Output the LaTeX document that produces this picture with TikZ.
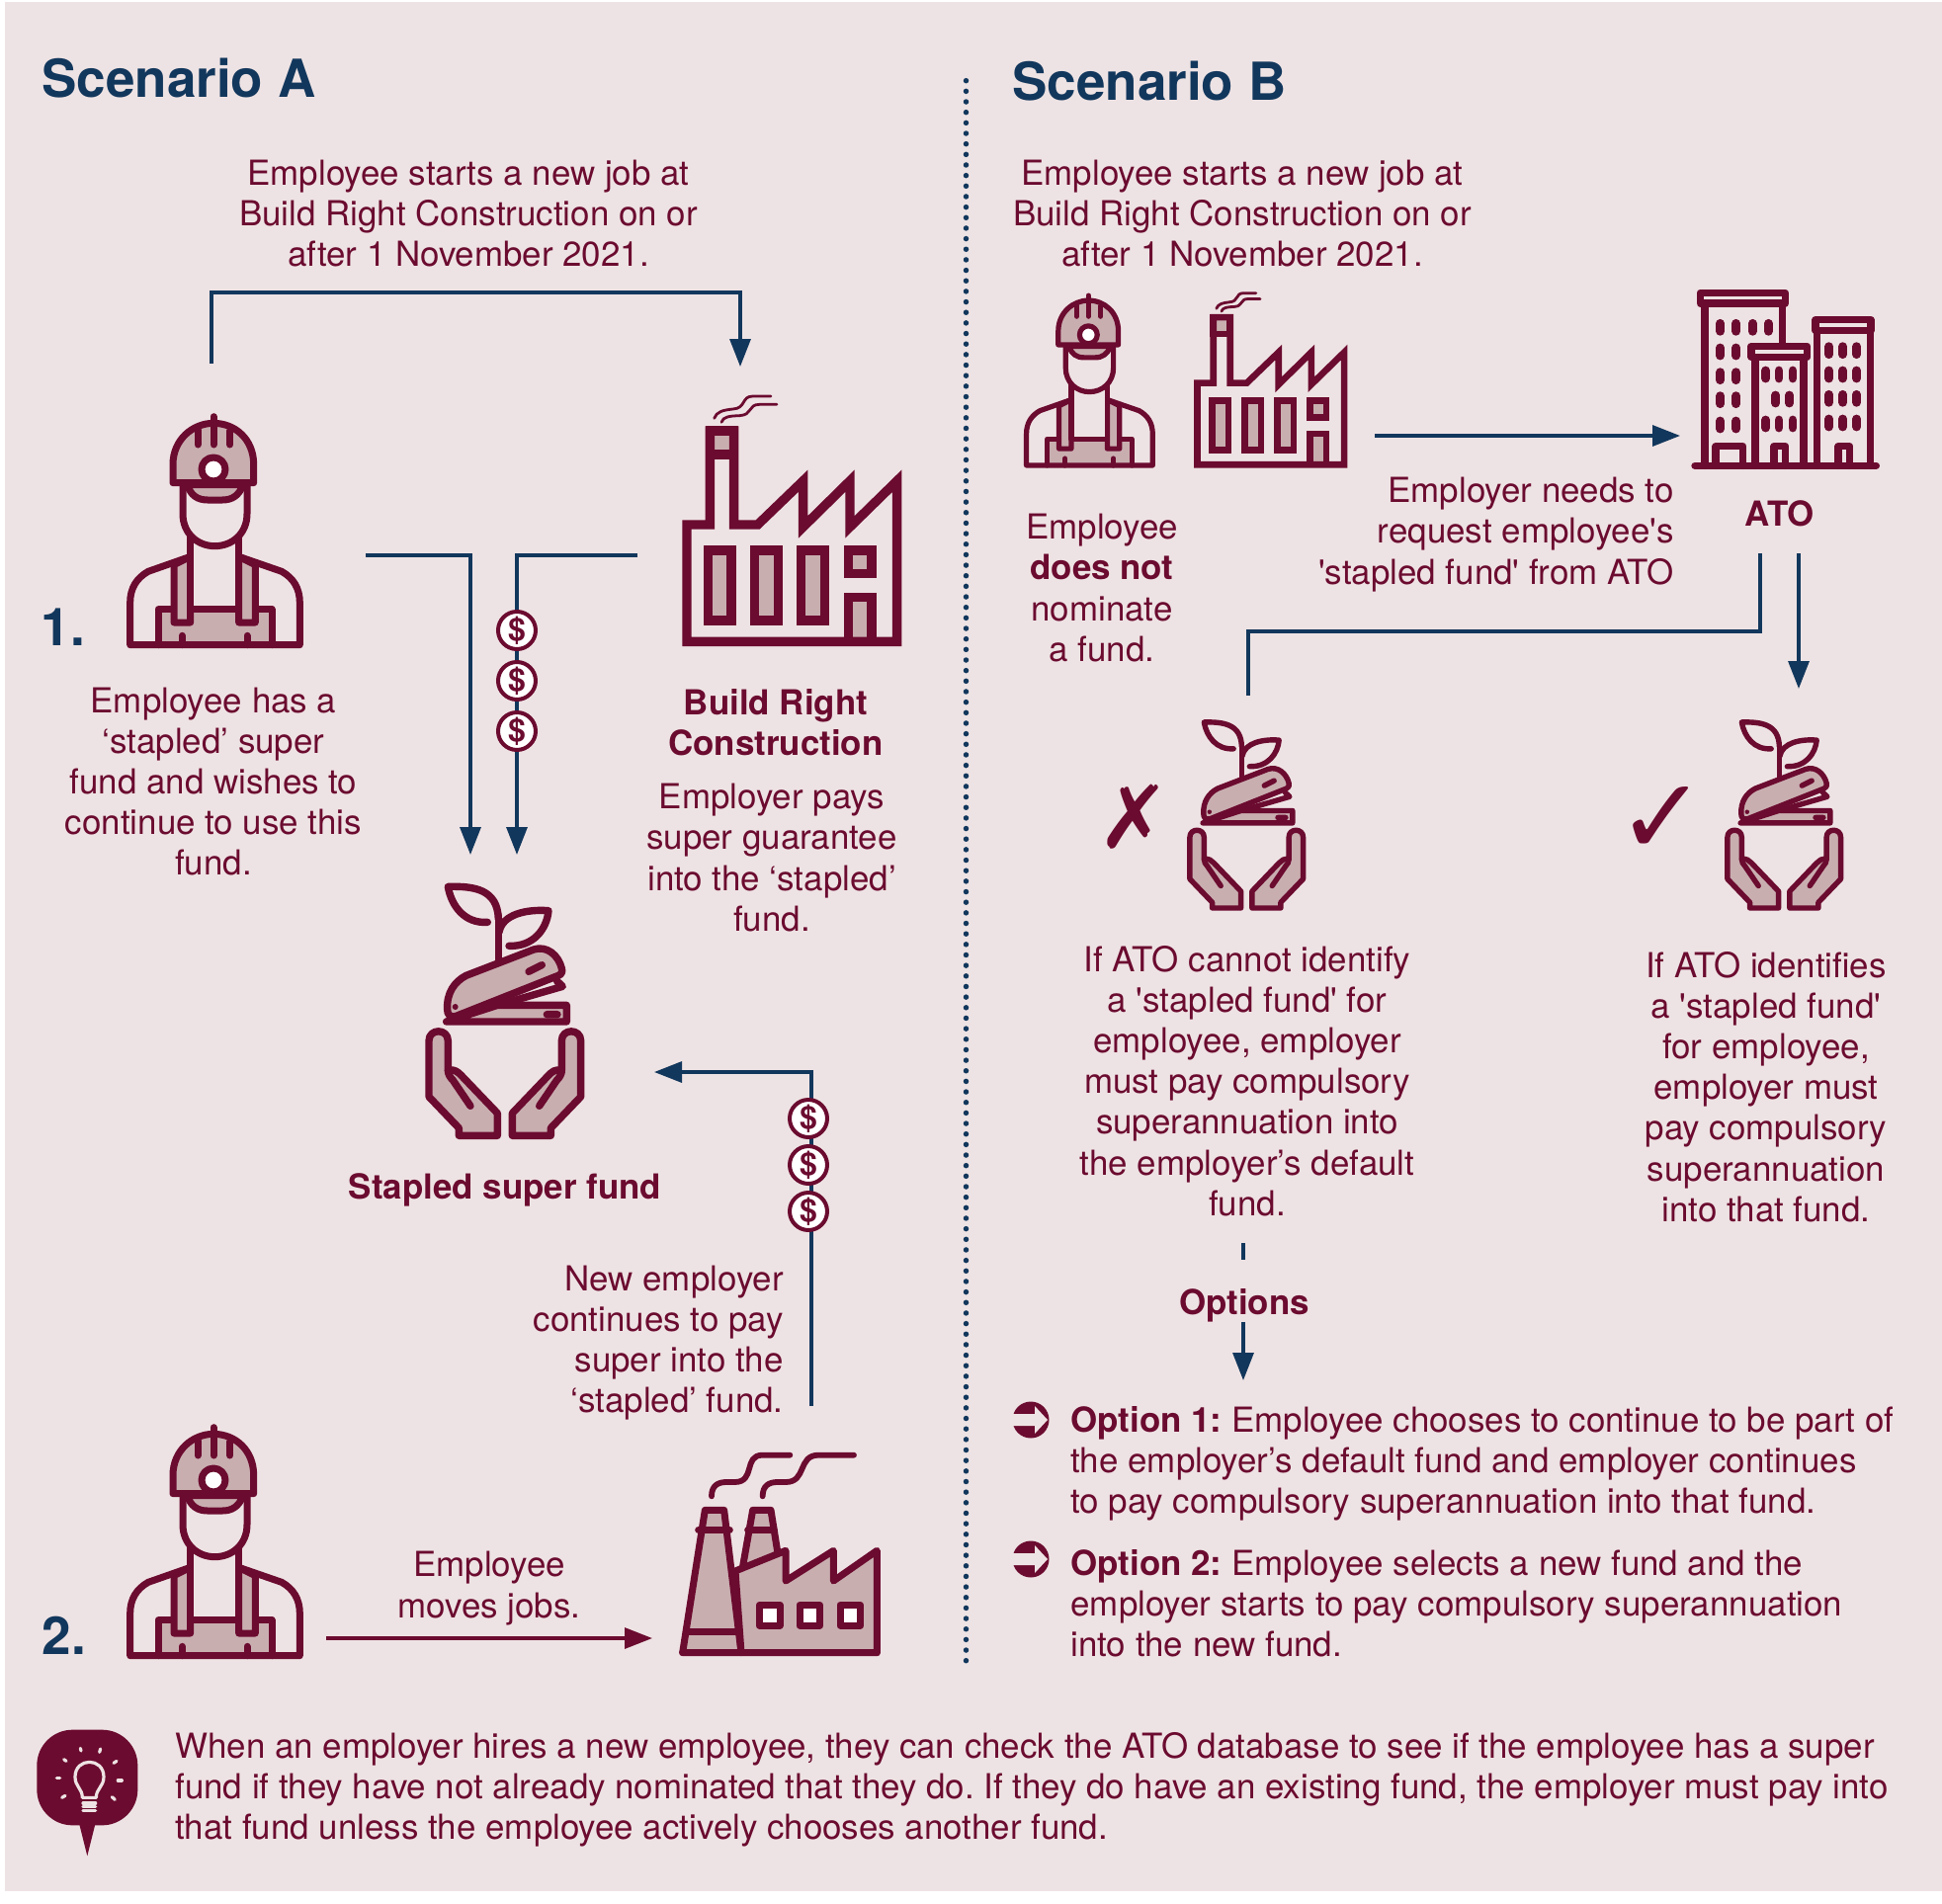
\documentclass[tikz,border=0pt]{standalone}
\usepackage{fontspec}
\setmainfont[Ligatures=TeXOff]{TeX Gyre Heros}
\newfontfamily\dingfont{DejaVu Sans}
\usetikzlibrary{arrows.meta,positioning,calc}
\definecolor{wine}{HTML}{6B0B2F}
\definecolor{rose}{HTML}{C9AEB0}
\definecolor{navy}{HTML}{12375C}
\definecolor{paper}{HTML}{EEE3E4}
\frenchspacing
\tikzset{
  ln/.style={draw=wine,line width=3.5pt,line join=round,line cap=round},
  sharp/.style={draw=wine,line width=4.7pt,miter limit=10},
  pics/worker/.style={code={
    \fill[rose] (180,758)--(180,650)--(525,650)--(525,758)--cycle;
    \draw[ln] (180,758)--(180,650)--(525,650)--(525,758);
    \draw[ln] (278,490)--(150,535) .. controls (115,555) and (95,585) .. (95,630)--(95,758)--(610,758)--(610,630) .. controls (610,585) and (590,555) .. (555,535)--(425,490);
    \draw[ln,fill=rose] (228,515)--(278,490)--(278,690)--(228,690)--cycle;
    \draw[ln,fill=rose] (475,515)--(425,490)--(425,690)--(475,690)--cycle;
    \draw[ln,fill=paper] (278,490)--(278,420)--(425,420)--(425,490)--(425,650)--(278,650)--cycle;
    \draw[ln] (253,730)--(253,758) (450,730)--(450,758);
    \draw[ln,fill=paper] (255,268)--(255,360) .. controls (255,420) and (300,458) .. (352,458) .. controls (405,458) and (450,420) .. (450,360)--(450,268);
    \draw[ln,fill=rose] (268,272) .. controls (280,305) and (300,318) .. (330,318)--(375,318) .. controls (405,318) and (425,305) .. (438,272)--cycle;
    \draw[ln,fill=rose] (225,266)--(225,210) .. controls (225,135) and (285,85) .. (348,85) .. controls (415,85) and (470,135) .. (470,210)--(470,266)--cycle;
    \draw[ln] (348,65)--(348,150) (300,105)--(300,150) (398,108)--(398,150);
    \fill[white] (348,225) circle (28);
    \draw[ln] (348,225) circle (36);
  }},
  pics/factory/.style={code={
    \foreach \wx in {169,311,452}
      \draw[sharp,fill=rose] (\wx,501) rectangle ++(71,213);
    \draw[sharp,fill=rose] (595,501) rectangle (666,572);
    \draw[sharp,fill=rose] (595,778)--(595,643)--(666,643)--(666,778);
    \draw[sharp,fill=rose] (175,138) rectangle (248,210);
    \draw[sharp] (105,778)--(105,423)--(175,423)--(175,138)--(248,138)--(248,423)--(320,423)--(458,290)--(458,430)--(600,290)--(600,430)--(743,290)--(743,778)--cycle;
    \draw[ln,line width=1.4pt] (188,100) .. controls (195,80) and (215,75) .. (245,72) .. controls (285,70) and (270,33) .. (305,33)--(360,33);
    \draw[ln,line width=1.4pt] (210,112) .. controls (215,95) and (235,93) .. (265,92) .. controls (305,90) and (290,58) .. (325,58)--(378,58);
  }},
  pics/fund/.style={code={
    \draw[ln] (283,275)--(283,140);
    \draw[ln] (250,160) .. controls (180,165) and (140,110) .. (130,52) .. controls (210,50) and (280,60) .. (283,150);
    \draw[ln] (315,232) .. controls (390,235) and (430,180) .. (435,125) .. controls (370,120) and (295,135) .. (285,190);
    \draw[ln,fill=rose] (125,462)--(490,462)--(490,412)--(280,412)--cycle;
    \draw[ln] (460,338)--(478,355)--(295,408);
    \draw[ln,fill=rose] (128,425) .. controls (125,375) and (150,340) .. (185,322)--(390,243) .. controls (430,230) and (465,260) .. (475,300) .. controls (478,310) and (475,318) .. (465,322)--(155,445) .. controls (135,450) and (128,440) .. (128,425)--cycle;
    \draw[ln] (375,310)--(415,290) (430,440)--(462,440);
    \fill[wine] (152,417) circle (9);
    \foreach \hs/\ho in {1/0,-1/605}{
    \begin{scope}[shift={(\ho,0)},xscale=\hs]
      \draw[ln,fill=rose] (72,520) .. controls (72,482) and (130,482) .. (130,520)--(130,610) .. controls (150,605) and (160,615) .. (170,625)--(280,740)--(280,808)--(163,808)--(163,785)--(72,690)--cycle;
      \draw[ln] (130,610) .. controls (130,620) and (135,630) .. (145,640)--(198,718);
    \end{scope}}
  }},
  pics/oldworks/.style={code={
    \draw[ln,fill=rose] (62,668)--(130,235)--(188,235)--(240,668)--cycle;
    \draw[ln] (110,295)--(205,295) (75,605)--(225,605);
    \draw[ln,fill=rose] (245,405)--(275,235)--(330,235)--(350,360);
    \draw[ln] (260,295)--(340,295);
    \draw[ln,fill=rose] (222,420)--(375,358)--(375,450)--(520,358)--(520,450)--(652,358)--(652,668)--(240,668)--cycle;
    \draw[ln] (62,668)--(652,668);
    \foreach \wx in {295,417,540}
      \draw[ln,fill=white] (\wx,523) rectangle ++(62,62);
    \draw[ln,line width=2.9pt] (150,193) .. controls (150,160) and (170,150) .. (195,150)--(220,150) .. controls (285,150) and (245,68) .. (305,68)--(388,68);
    \draw[ln,line width=2.9pt] (305,193) .. controls (305,160) and (325,150) .. (350,150)--(375,150) .. controls (440,150) and (410,68) .. (475,68)--(582,68);
  }},
  pics/towers/.style={code={
    \draw[ln] (75,85)--(75,574) (310,85)--(310,205);
    \draw[ln] (228,245)--(228,574) (375,245)--(375,574);
    \draw[ln] (415,170)--(415,574) (578,170)--(578,574);
    \draw[ln] (45,574)--(595,574);
    \draw[ln] (61,49) rectangle (319,81);
    \draw[ln] (216,211) rectangle (386,244);
    \draw[ln] (411,131) rectangle (579,164);
    \draw[ln] (108,574)--(108,515)--(190,515)--(190,574);
    \draw[ln] (285,574)--(285,515)--(320,515)--(320,574);
    \draw[ln] (480,574)--(480,515)--(515,515)--(515,574);
    \foreach \wx in {122,170,220,268}
      \draw[ln,line width=4.4pt] (\wx,142)--(\wx,166);
    \foreach \wy in {216,290,362,438}
      \draw[ln,line width=4.4pt] (122,\wy)--(122,\wy+24) (170,\wy)--(170,\wy+24);
    \foreach \wy/\wxa/\wxb/\wxc in {285/260/300/342,435/260/300/342}
      \draw[ln,line width=4.4pt] (\wxa,\wy)--(\wxa,\wy+24) (\wxb,\wy)--(\wxb,\wy+24) (\wxc,\wy)--(\wxc,\wy+24);
    \draw[ln,line width=4.4pt] (290,360)--(290,384) (332,360)--(332,384);
    \foreach \wy in {212,285,358,432}
      \draw[ln,line width=4.4pt] (452,\wy)--(452,\wy+24) (494,\wy)--(494,\wy+24) (536,\wy)--(536,\wy+24);
  }},
  pics/goarrow/.style={code={
    \fill[wine] (0,0) circle (18.5);
    \fill[paper] (-20,-6)--(4,-6)--(4,-14)--(17,0)--(4,14)--(4,6)--(-20,6)--cycle;
  }},
  pics/hint/.style={code={
    \fill[wine,rounded corners=18] (52,62) rectangle (358,352);
    \fill[wine] (180,345)--(205,445)--(230,345)--cycle;
    \begin{scope}[draw=paper,line width=1.6pt,line cap=round,line join=round]
      \draw (190,268) .. controls (190,240) and (168,235) .. (168,205) .. controls (168,145) and (255,145) .. (255,205) .. controls (255,235) and (232,240) .. (232,268)--cycle;
      \draw (192,285)--(230,285) (192,296)--(230,296) (192,307)--(230,307);
      \foreach \rxa/\rya/\rxb/\ryb in {184/118/186/126,245/120/242/130,134/152/141/157,294/157/285/163,112/208/122/208,298/216/310/216,128/268/138/262,280/266/289/274}
        \draw (\rxa,\rya)--(\rxb,\ryb);
    \end{scope}
  }},
}
\begin{document}
\begin{tikzpicture}[x=.5pt,y=-.5pt,>=Stealth,
  body/.style={text=wine,font=\frenchspacing\fontsize{17.45}{20.6}\selectfont,inner sep=0pt,align=center},
  bodybf/.style={body,font=\fontsize{17.45}{20.6}\selectfont\bfseries},
  head/.style={text=navy,font=\fontsize{26.5}{30}\selectfont\bfseries,inner sep=0pt},
  link/.style={draw=navy,line width=1.6pt},
  arr/.style={link,-{Triangle[length=14pt,width=10.5pt]}},
  moved/.style={draw=wine,line width=1.6pt,-{Triangle[length=14pt,width=10.5pt]}},
  coin/.style={circle,draw=wine,line width=2pt,fill=white,minimum size=19pt,inner sep=0pt,text=wine,font=\fontsize{16}{16}\selectfont\bfseries},
  glyph/.style={text=wine,font=\fontsize{44}{44}\selectfont\dingfont,inner sep=0pt}]
  \useasboundingbox (0,0) rectangle (1965,1927);
  \fill[paper] (5,2) rectangle (1965,1914);

  % scenario a
  \node[head,anchor=west] (heada) at (42,79) {Scenario A};
  \node[body] (starta) at (474,216) {Employee starts a new job at\\Build Right Construction on or\\after 1 November 2021.};
  \pic[scale=1/3] at (100,400) {worker};
  \pic[scale=1/3] at (660,390) {factory};
  \node[head] (one) at (64,635) {1.};
  \node[body] (stapled) at (216,791) {Employee has a\\‘stapled’ super\\fund and wishes to\\continue to use this\\fund.};
  \node[bodybf] (build) at (785,731) {Build Right\\Construction};
  \node[body] (pays) at (781,868) {Employer pays\\super guarantee\\into the ‘stapled’\\fund.};
  \pic[scale=1/3,ln/.append style={line width=3.7pt}] at (410,880) {fund};
  \node[bodybf] (fundname) at (511,1204) {Stapled super fund};
  \node[body,align=right,anchor=east] (cont) at (793,1359) {New employer\\continues to pay\\super into the\\‘stapled’ fund.};
  \pic[scale=1/3] at (100,1423) {worker};
  \pic[scale=1/3] at (670,1450) {oldworks};
  \node[head] (two) at (65,1655) {2.};
  \node[body] (moves) at (495,1607.5) {Employee\\moves jobs.};

  \coordinate (wtop) at (214,368);
  \coordinate (ftop) at (749,371);
  \coordinate (ckb) at (749,296);
  \draw[arr] (wtop)|-(ckb)--(ftop);
  \coordinate (wout) at (370,562);
  \coordinate (wck) at (476,562);
  \coordinate (wend) at (476,865);
  \draw[arr] (wout)--(wck)--(wend);
  \coordinate (fout) at (645,562);
  \coordinate (fck) at (523,562);
  \coordinate (fend) at (523,865);
  \draw[arr] (fout)--(fck)--(fend);
  \node[coin] (ca) at (523,638) {\$};
  \node[coin] (cb) at (523,689) {\$};
  \node[coin] (cc) at (523,740) {\$};
  \coordinate (nout) at (821,1423);
  \coordinate (nck) at (821,1085);
  \coordinate (nend) at (662,1085);
  \draw[arr] (nout)--(nck)--(nend);
  \node[coin] (cd) at (818,1132) {\$};
  \node[coin] (ce) at (818,1179) {\$};
  \node[coin] (cf) at (818,1226) {\$};
  \coordinate (jout) at (330,1658);
  \coordinate (jend) at (660,1658);
  \draw[moved] (jout)--(jend);

  \coordinate (dtop) at (977.5,81.7);
  \coordinate (dbot) at (977.5,1688);
  \draw[navy,line width=2.75pt,line cap=round,dash pattern=on 0pt off 5.33pt] (dtop)--(dbot);

  % scenario b
  \node[head,anchor=west] (headb) at (1024,82) {Scenario B};
  \node[body] (startb) at (1257,216) {Employee starts a new job at\\Build Right Construction on or\\after 1 November 2021.};
  \pic[scale=.248,ln/.append style={line width=2.6pt}] at (1015,283) {worker};
  \pic[scale=.233,sharp/.append style={line width=3.3pt}] at (1187,289) {factory};
  \pic[scale=1/3,ln/.append style={line width=3.7pt}] at (1700,280) {towers};
  \node[body] (nonom) at (1115,595) {Employee\\\textbf{does not}\\nominate\\a fund.};
  \node[body,align=right,anchor=east] (needs) at (1694,541) {Employer needs to\\request employee's\\'stapled fund' from ATO};
  \node[bodybf] (ato) at (1801,520) {ATO};
  \pic[scale=.2487,ln/.append style={line width=2.7pt}] at (1186,718) {fund};
  \pic[scale=.2487,ln/.append style={line width=2.7pt}] at (1730,718) {fund};
  \node[glyph] (nope) at (1147,827) {✗};
  \node[glyph,font=\fontsize{54}{54}\selectfont\dingfont] (yes) at (1682,830) {✓};
  \node[body] (cannot) at (1262,1094) {If ATO cannot identify\\a 'stapled fund' for\\employee, employer\\must pay compulsory\\superannuation into\\the employer’s default\\fund.};
  \node[body] (can) at (1787,1100) {If ATO identifies\\a 'stapled fund'\\for employee,\\employer must\\pay compulsory\\superannuation\\into that fund.};
  \node[bodybf] (opts) at (1259,1321.5) {Options};
  \pic at (1043,1437) {goarrow};
  \pic at (1043,1578) {goarrow};
  \node[body,align=left,anchor=west] (optone) at (1083,1481.5) {\textbf{Option 1:} Employee chooses to continue to be part of\\the employer’s default fund and employer continues\\to pay compulsory superannuation into that fund.};
  \node[body,align=left,anchor=west] (opttwo) at (1083,1623) {\textbf{Option 2:} Employee selects a new fund and the\\employer starts to pay compulsory superannuation\\into the new fund.};

  \coordinate (eout) at (1391,441);
  \coordinate (eend) at (1700,441);
  \draw[arr] (eout)--(eend);
  \coordinate (aleft) at (1781,560);
  \coordinate (aright) at (1820,560);
  \coordinate (ackb) at (1781,639);
  \coordinate (xtop) at (1263,704);
  \coordinate (vtop) at (1820,697);
  \draw[link] (aleft)--(ackb)-|(xtop);
  \draw[arr] (aright)--(vtop);
  \coordinate (odash) at (1258,1258);
  \coordinate (odashb) at (1258,1275);
  \coordinate (oout) at (1258,1338);
  \coordinate (oend) at (1258,1397);
  \draw[link] (odash)--(odashb);
  \draw[arr] (oout)--(oend);

  % tip
  \pic[scale=1/3] at (20,1730) {hint};
  \node[body,align=left,anchor=west] (tip) at (177,1811) {When an employer hires a new employee, they can check the ATO database to see if the employee has a super\\fund if they have not already nominated that they do. If they do have an existing fund, the employer must pay into\\that fund unless the employee actively chooses another fund.};
\end{tikzpicture}
\end{document}
